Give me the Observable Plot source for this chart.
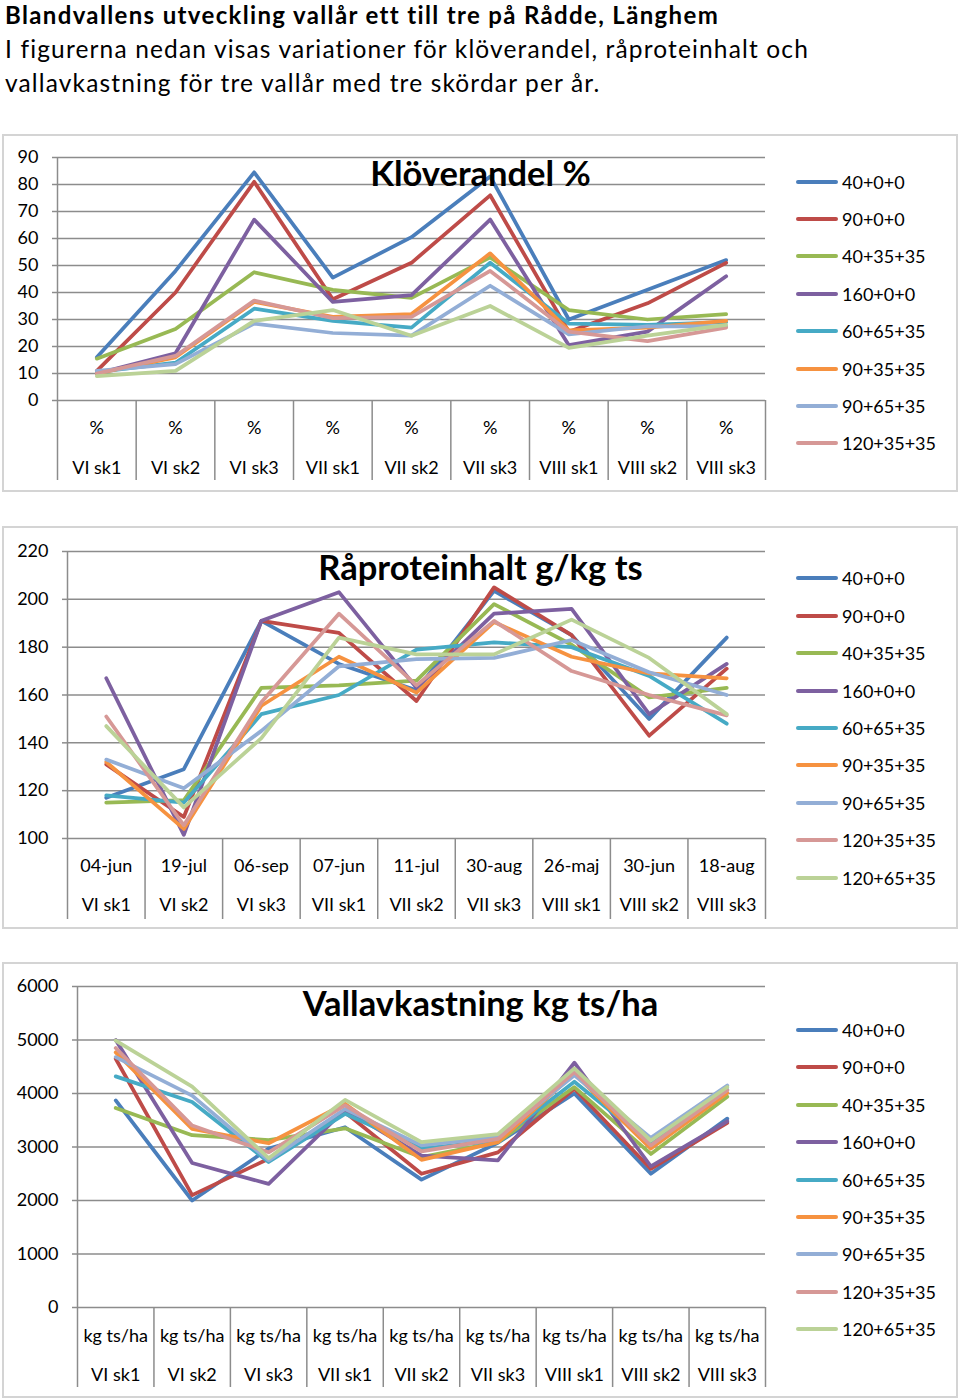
<!DOCTYPE html>
<html><head><meta charset="utf-8">
<script src="https://cdn.jsdelivr.net/npm/d3@7"></script>
<script src="https://cdn.jsdelivr.net/npm/@observablehq/plot@0.6"></script>
<style>
body{margin:0;background:#fff;font-family:Lato,"Open Sans",sans-serif;color:#000;}
#page{position:relative;width:960px;height:1400px;overflow:hidden;}
.hdr{position:absolute;left:5px;white-space:nowrap;line-height:1.2;}
.chart{position:absolute;left:3px;}
.border{position:absolute;left:2px;width:956px;border:2px solid #d4d4d4;box-sizing:border-box;pointer-events:none;}
.leg{position:absolute;left:796px;height:22px;display:flex;align-items:center;font-size:18px;white-space:nowrap;}
.sw{display:inline-block;width:42px;height:4px;margin-right:4px;border-radius:2px;}
</style>
</head><body>
<div id="page">
  <div class="hdr" style="top:1px;font-size:24px;font-weight:bold;letter-spacing:1.35px;">Blandvallens utveckling vallår ett till tre på Rådde, Länghem</div>
  <div class="hdr" style="top:34px;font-size:24.5px;letter-spacing:1.15px;">I figurerna nedan visas variationer för klöverandel, råproteinhalt och</div>
  <div class="hdr" style="top:68px;font-size:24.5px;letter-spacing:1.15px;">vallavkastning för tre vallår med tre skördar per år.</div>
</div>
<script>
const series = ["40+0+0","90+0+0","40+35+35","160+0+0","60+65+35","90+35+35","90+65+35","120+35+35","120+65+35"];
const colors = ["#4A7EBB","#BE4B48","#98B954","#7D60A0","#46AAC5","#F69240","#93AED6","#D69896","#BBD297"];
const categories = ["VI sk1","VI sk2","VI sk3","VII sk1","VII sk2","VII sk3","VIII sk1","VIII sk2","VIII sk3"];
const dates = ["04-jun","19-jul","06-sep","07-jun","11-jul","30-aug","26-maj","30-jun","18-aug"];
const unitsKlover = ["%","%","%","%","%","%","%","%","%"];
const unitsSkord = ["kg ts/ha","kg ts/ha","kg ts/ha","kg ts/ha","kg ts/ha","kg ts/ha","kg ts/ha","kg ts/ha","kg ts/ha"];

// Klöverandel % (one array per series, 9 harvests)
const klover = [
  [16, 48, 84.5, 45.5, 60.5, 83, 30, 41, 52],
  [11, 40, 81, 37.5, 51, 76, 25.5, 36, 51],
  [15.5, 26.5, 47.5, 41, 38, 53, 33.5, 30, 32],
  [10, 17.5, 67, 36.5, 39, 67, 20.5, 25.5, 46],
  [10.5, 14, 34, 29.5, 27, 51, 28.5, 28, 29],
  [10, 16, 36.5, 31, 32, 54.5, 26, 27, 29.5],
  [11, 13.5, 28.5, 25, 24, 42.5, 24.5, 27.5, 27.5],
  [10, 16.5, 37, 30.5, 31, 48, 25.5, 22, 27],
  [9, 11, 29.5, 33.5, 24, 35, 19.5, 24, 28]
];
// Råproteinhalt g/kg ts
const protein = [
  [117, 129, 191, 173, 162, 203.5, 185, 150, 184],
  [131, 109, 191, 186, 157.5, 205, 185, 143, 171],
  [115, 116, 163, 164, 166, 198, 181, 159, 163],
  [167, 101.5, 191, 203, 163, 194, 196, 152, 173],
  [118, 115, 152, 160, 179, 182, 180, 168, 148],
  [132, 104, 155.5, 176, 161, 190.5, 176, 169, 167],
  [133, 121, 145, 172, 175, 175.5, 183, 169.5, 160],
  [151, 105.5, 157, 194, 164, 191, 170, 160, 151.5],
  [147, 113, 142, 184, 177, 177, 191.5, 175.5, 152]
];
// Vallavkastning kg ts/ha
const skord = [
  [3870, 2000, 2970, 3370, 2390, 3080, 4000, 2500, 3530],
  [4650, 2100, 2780, 3650, 2500, 2900, 4090, 2590, 3450],
  [3730, 3220, 3130, 3350, 2810, 3090, 4120, 2870, 3940],
  [5000, 2700, 2310, 3700, 2840, 2750, 4575, 2640, 3480],
  [4320, 3840, 2720, 3620, 2970, 3120, 4220, 3060, 4070],
  [4770, 3340, 3070, 3810, 2760, 3090, 4370, 2970, 4010],
  [4680, 3960, 2750, 3710, 3030, 3190, 4340, 3170, 4150],
  [4850, 3400, 2900, 3780, 2920, 3150, 4400, 3030, 4060],
  [4990, 4130, 2790, 3880, 3090, 3240, 4470, 3120, 4120]
];
const ticksKlover = d3.range(0, 91, 10);
const ticksProtein = d3.range(100, 221, 20);
const ticksSkord = d3.range(0, 6001, 1000);

const page = document.getElementById("page");
const GRID = "#8c8c8c";

function makeChart(cfg) {
  const rows = [];
  series.forEach((s, si) => cfg.data[si].forEach((v, i) => rows.push({s, i, v})));
  const idx = d3.range(categories.length);
  const bounds = d3.range(categories.length + 1).map(k => k - 0.5);
  const svg = Plot.plot({
    width: 954, height: cfg.h,
    marginLeft: cfg.ml, marginRight: 192, marginTop: cfg.mt, marginBottom: cfg.mb,
    style: {background: "transparent", fontFamily: "Lato, 'Open Sans', sans-serif", fontSize: "18px", color: "#000", overflow: "visible"},
    x: {domain: [-0.5, categories.length - 0.5], axis: null},
    y: {domain: cfg.ydomain, axis: null},
    color: {domain: series, range: colors},
    marks: [
      Plot.gridY(cfg.yticks, {stroke: GRID, strokeOpacity: 1, strokeWidth: 1.5}),
      Plot.axisY(cfg.yticks, {tickSize: 5, tickPadding: 14, stroke: GRID, strokeWidth: 1.5, tickFormat: d3.format("d"), label: null}),
      Plot.ruleX([-0.5], {stroke: GRID, strokeWidth: 1.5}),
      Plot.axisX(bounds, {tickSize: cfg.sep, tickFormat: () => "", stroke: GRID, strokeWidth: 1.5, label: null}),
      Plot.axisX(idx, {tickSize: 0, tickPadding: cfg.r1, tickFormat: i => cfg.units[i], label: null}),
      Plot.axisX(idx, {tickSize: 0, tickPadding: cfg.r2, tickFormat: i => categories[i], label: null}),
      Plot.line(rows, {x: "i", y: "v", z: "s", stroke: "s", strokeWidth: 3.75, strokeLinejoin: "round", strokeLinecap: "round"}),
      Plot.text([cfg.title], {frameAnchor: "top", dx: cfg.tdx, dy: cfg.tdy, lineAnchor: "bottom", fontWeight: "bold", fontSize: 34.5, fill: "#000"})
    ]
  });
  svg.classList.add("chart");
  svg.style.top = cfg.top + "px";
  page.appendChild(svg);
  const b = document.createElement("div");
  b.className = "border";
  b.style.top = (cfg.top - 1) + "px";
  b.style.height = (cfg.h + 2) + "px";
  page.appendChild(b);
  cfg.legendNames.forEach((n, k) => {
    const e = document.createElement("div");
    e.className = "leg";
    e.style.top = (cfg.legTop + k * 37.4 - 11) + "px";
    const sw = document.createElement("span");
    sw.className = "sw";
    sw.style.background = colors[k];
    e.appendChild(sw);
    e.appendChild(document.createTextNode(n));
    page.appendChild(e);
  });
}

makeChart({data: klover, ydomain: [0, 90], yticks: ticksKlover, units: unitsKlover,
  top: 135, h: 356, ml: 54, mt: 22, mb: 91, sep: 80, r1: 21, r2: 61,
  title: "Klöverandel %", tdx: 69, tdy: 28, legTop: 181.5, legendNames: series.slice(0, 8)});
makeChart({data: protein, ydomain: [100, 220], yticks: ticksProtein, units: dates,
  top: 527, h: 401, ml: 64, mt: 24, mb: 90, sep: 81, r1: 21, r2: 60,
  title: "Råproteinhalt g/kg ts", tdx: 64, tdy: 28, legTop: 578.3, legendNames: series});
makeChart({data: skord, ydomain: [0, 6000], yticks: ticksSkord, units: unitsSkord,
  top: 963, h: 434, ml: 74, mt: 23, mb: 90, sep: 80, r1: 22, r2: 61,
  title: "Vallavkastning kg ts/ha", tdx: 59, tdy: 29, legTop: 1030, legendNames: series});
</script>
</body></html>
